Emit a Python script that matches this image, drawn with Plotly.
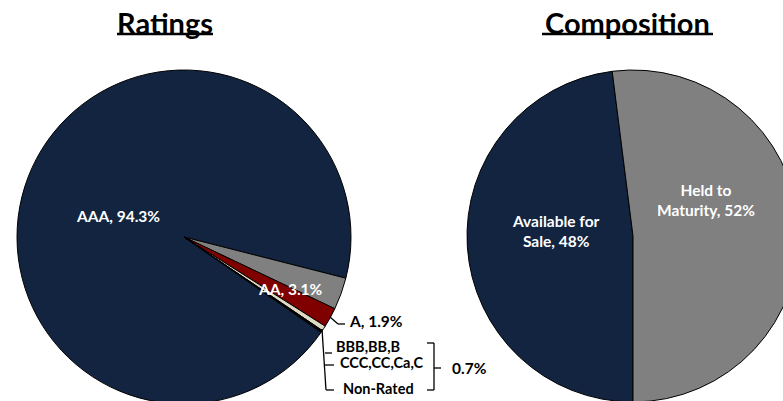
import plotly.graph_objects as go

# ---------------- data ----------------
rating_labels = ["AAA", "AA", "A", "BBB,BB,B", "CCC,CC,Ca,C", "Non-Rated"]
rating_values = [94.3, 3.1, 1.9, 0.5, 0.1, 0.1]
rating_colors = ["#12243F", "#808080", "#800000", "#DDD9C3", "#1A1A1A", "#000000"]

comp_labels = ["Available for Sale", "Held to Maturity"]
comp_text = ["Available for<br>Sale", "Held to<br>Maturity"]
comp_values = [48, 52]
comp_colors = ["#12243F", "#808080"]

titles = ["Ratings", "Composition"]

# ---------------- layout helpers ----------------
W, H = 800, 405
FONT = "Lato"
LS = 15.5  # label font size


def fx(px):
    return px / W


def fy(py):
    return 1 - py / H


fig = go.Figure()

# Ratings pie: centre (184, 237), radius 167
fig.add_trace(go.Pie(
    labels=rating_labels, values=rating_values, sort=False,
    direction="clockwise", rotation=124.8,
    marker=dict(colors=rating_colors, line=dict(color="#000000", width=1)),
    textinfo="none", hoverinfo="label+percent", showlegend=False,
    domain=dict(x=[fx(17), fx(351)], y=[fy(404), fy(70)]),
))

# Composition pie: centre (633, 236), radius 166
fig.add_trace(go.Pie(
    labels=comp_labels, values=comp_values, sort=False,
    direction="clockwise", rotation=180,
    marker=dict(colors=comp_colors, line=dict(color="#000000", width=1)),
    textinfo="none", hoverinfo="label+percent", showlegend=False,
    domain=dict(x=[fx(467), fx(799)], y=[fy(402), fy(70)]),
))

ann = []
shapes = []


def text(x, y, s, size=LS, color="#000000", anchor="center"):
    ann.append(dict(x=fx(x), y=fy(y), xref="paper", yref="paper", text="<b>" + s + "</b>",
                    showarrow=False, xanchor=anchor, yanchor="middle",
                    font=dict(family=FONT, size=size, color=color)))


def line(x0, y0, x1, y1, w=1.3):
    shapes.append(dict(type="line", xref="paper", yref="paper",
                       x0=fx(x0), y0=fy(y0), x1=fx(x1), y1=fy(y1),
                       line=dict(color="#000000", width=w)))


# titles with underline
text(165, 22, titles[0], size=29)
line(117, 34, 213, 34, w=2.5)
text(627, 22, titles[1], size=29)
line(542, 34, 713, 34, w=2.5)

# rating labels
text(118, 216, f"{rating_labels[0]}, {rating_values[0]}%", color="#FFFFFF")
text(290, 289, f"{rating_labels[1]}, {rating_values[1]}%", color="#FFFFFF")
text(347, 321, f"{rating_labels[2]}, {rating_values[2]}%", anchor="left")
line(330, 317, 338, 324)
line(338, 324, 345, 324)

small_total = round(sum(rating_values[3:]), 1)
text(334, 346, rating_labels[3], size=14.5, anchor="left")
text(338, 362, rating_labels[4], size=14.5, anchor="left")
text(341, 388, rating_labels[5], size=14.5, anchor="left")
line(322, 329, 326, 390)
line(326, 390, 334, 390)
line(325, 353, 332, 353)
line(325, 365, 334, 365)
# bracket
line(427, 343, 434, 343)
line(434, 343, 434, 390)
line(427, 390, 434, 390)
line(434, 368, 441, 368)
text(450, 368, f"{small_total}%", anchor="left")

# composition labels
text(556, 231, f"{comp_text[0]}, {comp_values[0]}%", color="#FFFFFF")
text(706, 200, f"{comp_text[1]}, {comp_values[1]}%", color="#FFFFFF")

fig.update_layout(
    width=W, height=H,
    margin=dict(l=0, r=0, t=0, b=0),
    paper_bgcolor="#FFFFFF", plot_bgcolor="#FFFFFF",
    annotations=ann, shapes=shapes,
)

fig.write_html("out.html",
               post_script="document.documentElement.style.overflow='hidden';document.body.style.overflow='hidden';")
